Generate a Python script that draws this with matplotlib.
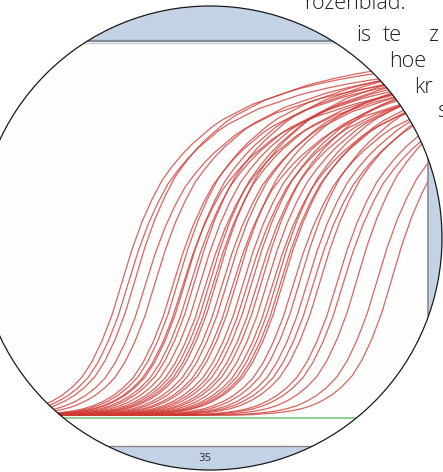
import matplotlib
matplotlib.use("Agg")
import matplotlib.pyplot as plt
from matplotlib.patches import Ellipse
import numpy as np

W, H, DPI = 443, 472, 100

# Threshold cycle of every well on the plate
ct_values = [31.35, 31.65, 32.0, 32.5, 33.0, 33.9, 34.15, 34.35, 34.5, 34.75,
             35.0, 35.25, 35.5, 35.75, 35.9, 36.1, 36.35, 36.6, 36.85, 37.1,
             37.4, 37.6, 37.85, 38.1, 38.35, 38.6, 38.85, 39.1, 39.25, 39.4,
             39.9, 40.25, 40.6, 40.9, 41.25, 42.1, 42.4, 43.1, 44.1, 44.85]

# Plateau fluorescence (delta Rn) reached by each well
plateaus = [3.45, 3.40, 3.50, 3.35, 3.42, 3.38, 3.47, 3.30, 3.44, 3.36,
            3.50, 3.41, 3.33, 3.46, 3.39, 3.52, 3.37, 3.43, 3.31, 3.48,
            3.40, 3.35, 3.45, 3.38, 3.50, 3.42, 3.34, 3.47, 3.39, 3.44,
            3.36, 3.49, 3.41, 3.38, 3.46, 3.43, 3.40, 3.52, 3.48, 3.55]

# Normalised amplification profile, one sample every half cycle around Ct
profile_offsets = [-8.0, -7.5, -7.0, -6.5, -6.0, -5.5, -5.0, -4.5, -4.0, -3.5,
                   -3.0, -2.5, -2.0, -1.5, -1.0, -0.5, 0.0, 0.5, 1.0, 1.5,
                   2.0, 2.5, 3.0, 3.5, 4.0, 4.5, 5.0, 5.5, 6.0, 6.5,
                   7.0, 7.5, 8.0, 8.5, 9.0, 9.5, 10.0, 10.5, 11.0, 11.5,
                   12.0, 12.5, 13.0, 13.5, 14.0, 14.5, 15.0, 15.5, 16.0, 16.5,
                   17.0, 17.5, 18.0]
profile_values = [0.000, 0.001, 0.003, 0.005, 0.008, 0.012, 0.018, 0.027, 0.040, 0.057,
                  0.080, 0.110, 0.155, 0.215, 0.290, 0.385, 0.480, 0.560, 0.625, 0.680,
                  0.720, 0.755, 0.785, 0.810, 0.835, 0.855, 0.870, 0.885, 0.900, 0.910,
                  0.920, 0.930, 0.940, 0.948, 0.955, 0.962, 0.968, 0.974, 0.979, 0.984,
                  0.988, 0.991, 0.994, 0.996, 0.998, 0.999, 1.000, 1.000, 1.000, 1.000,
                  1.000, 1.000, 1.000]

x_ticks = [35]
x_tick_labels = ["35"]

# Running text that wraps around the round picture
body_words = ["rozenblad.", "is", "te", "z", "hoe", "kr", "s"]

fig = plt.figure(figsize=(W / DPI, H / DPI), dpi=DPI, facecolor="white")

# round frame (pixel geometry: centre 210,238 radius 232)
cx, cy, r = 210, 238, 232
def lens(**kw):
    return Ellipse((cx / W, 1 - cy / H), 2 * r / W, 2 * r / H,
                   transform=fig.transFigure, **kw)

clip = lens()
fig.add_artist(lens(facecolor="#c3d2e4", edgecolor="none", zorder=-5))

# plot panel
ax = fig.add_axes([0, 1 - 446 / H, 428 / W, (446 - 41) / H])
ax.set_xlim(24.75, 24.75 + 428 / 20)
ax.set_ylim(-0.31, 3.74)
ax.patch.set_facecolor("#fefefe")
ax.patch.set_clip_path(clip)

prof = np.array(profile_values)
offs = np.array(profile_offsets)
for ct, p in zip(ct_values, plateaus):
    xs = np.concatenate([[20.0], ct + offs])
    ys = np.concatenate([[0.0], p * prof])
    ln, = ax.plot(xs, ys, color="#cf3934", lw=0.9, alpha=0.78,
                  solid_capstyle="round", zorder=2)
    ln.set_clip_path(clip)

thr = ax.axhline(-0.03, color="#8fcf8c", lw=1.4, zorder=3)
thr.set_clip_path(clip)
hl = ax.axhline(3.72, color="#c9d0d8", lw=1.0, zorder=1)
hl.set_clip_path(clip)

ax.set_yticks([])
ax.set_xticks(x_ticks, x_tick_labels)
ax.tick_params(axis="x", length=0, pad=5, labelsize=7.5, labelcolor="#333333")

ax.spines["left"].set_visible(False)
ax.spines["top"].set_color("#7e8b99")
ax.spines["top"].set_linewidth(1.6)
ax.spines["right"].set_color("#868e96")
ax.spines["right"].set_linewidth(1.2)
ax.spines["bottom"].set_color("#8a8a8a")
ax.spines["bottom"].set_linewidth(1.0)
for sp in ax.spines.values():
    sp.set_clip_path(clip)

fig.add_artist(lens(facecolor="none", edgecolor="#1a1a1a", lw=0.9, zorder=10))

# wrapped article text
word_pos = [(304, 9), (356, 41), (383, 41), (428, 41), (389, 67), (414, 93), (437, 117)]
for w, (px, py) in zip(body_words, word_pos):
    fig.text(px / W, 1 - py / H, w, family="Open Sans", fontweight="light",
             fontsize=15.5, color="#231f20", va="baseline", ha="left")

fig.savefig("out.png", dpi=DPI, facecolor="white")
